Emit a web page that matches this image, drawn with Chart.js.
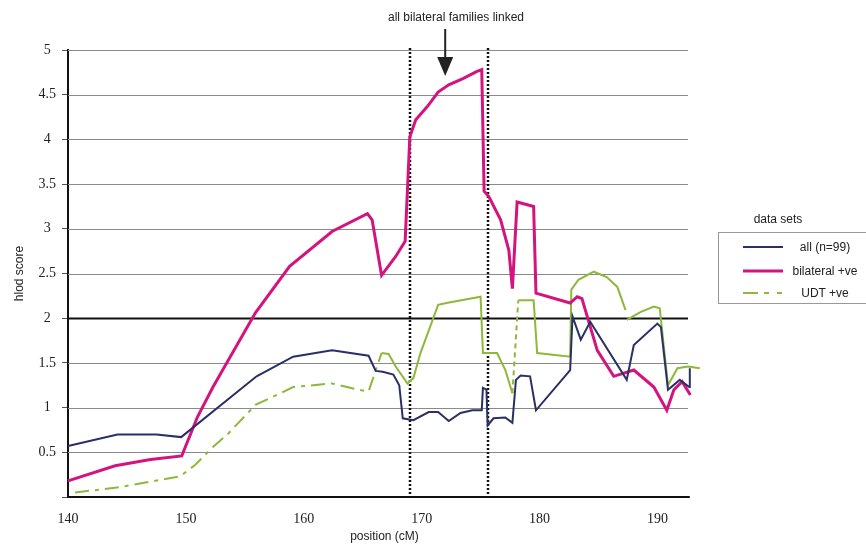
<!DOCTYPE html>
<html>
<head>
<meta charset="utf-8">
<script src="https://cdn.jsdelivr.net/npm/chart.js@4/dist/chart.umd.min.js"></script>
<style>
  html, body { margin: 0; padding: 0; background: #fff; }
  #wrap { position: relative; width: 866px; height: 544px; overflow: hidden; }
  #c { position: absolute; left: 0; top: 0; }
  #legendTitle { position: absolute; left: 718px; width: 120px; top: 212px; text-align: center;
    font: 12px "Liberation Sans", Arial, sans-serif; color: #222; }
  #legendBox { position: absolute; left: 718px; top: 232px; width: 160px; height: 72px;
    border: 1px solid #999; box-sizing: border-box; }
  .item { position: absolute; left: 0; width: 160px; height: 20px; }
  .item svg { position: absolute; left: 22px; top: 4px; }
  .item span { position: absolute; left: 70px; width: 72px; text-align: center; top: 3px;
    font: 12px "Liberation Sans", Arial, sans-serif; color: #222; white-space: nowrap; }
</style>
</head>
<body>
<div id="wrap">
  <canvas id="c" width="866" height="544"></canvas>
  <div id="legendTitle">data sets</div>
  <div id="legendBox">
    <div class="item" style="top:4px"><svg width="44" height="12"><line x1="2" y1="6" x2="42" y2="6" stroke="#2a3066" stroke-width="2"/></svg><span>all (n=99)</span></div>
    <div class="item" style="top:28px"><svg width="44" height="12"><line x1="2" y1="6" x2="42" y2="6" stroke="#d3147f" stroke-width="3"/></svg><span>bilateral +ve</span></div>
    <div class="item" style="top:50px"><svg width="44" height="12"><line x1="2" y1="6" x2="42" y2="6" stroke="#8db83a" stroke-width="2" stroke-dasharray="15,6,5,8,5,10"/></svg><span>UDT +ve</span></div>
  </div>
</div>
<script>
// ---- data ----
const xTicks = [140, 150, 160, 170, 180, 190];
const yTicks = [0.5, 1, 1.5, 2, 2.5, 3, 3.5, 4, 4.5, 5];

const allX = [140, 144.2, 147.5, 149.6, 156.0, 159.1, 162.4, 165.5, 166.1, 166.7, 167.6, 168.1, 168.4, 169.3, 170.6, 171.4, 172.3, 173.3, 174.3, 175.1, 175.2, 175.5, 175.6, 176.1, 177.1, 177.7, 178.0, 178.4, 179.2, 179.7, 182.6, 182.8, 183.5, 184.3, 187.4, 188.0, 190.0, 190.3, 190.9, 191.9, 192.7, 192.75];
const allY = [0.57, 0.70, 0.70, 0.67, 1.35, 1.57, 1.64, 1.58, 1.41, 1.40, 1.37, 1.25, 0.88, 0.86, 0.95, 0.95, 0.85, 0.94, 0.97, 0.97, 1.22, 1.20, 0.80, 0.88, 0.89, 0.83, 1.31, 1.36, 1.35, 0.97, 1.42, 2.02, 1.76, 1.96, 1.31, 1.70, 1.94, 1.90, 1.20, 1.31, 1.23, 1.44];

const bilatX = [140, 144, 147, 149.65, 151.0, 152.3, 155.9, 158.8, 162.4, 165.4, 165.8, 166.6, 167.8, 168.6, 169.0, 169.5, 170.5, 171.4, 172.3, 173.5, 174.7, 175.1, 175.3, 175.7, 176.7, 177.4, 177.7, 178.1, 179.5, 179.7, 182.6, 183.2, 183.6, 184.9, 186.3, 188.0, 189.7, 190.8, 191.4, 192.1, 192.8];
const bilatY = [0.18, 0.35, 0.42, 0.46, 0.90, 1.23, 2.06, 2.58, 2.97, 3.17, 3.10, 2.48, 2.69, 2.86, 4.03, 4.22, 4.37, 4.53, 4.61, 4.68, 4.76, 4.78, 3.42, 3.36, 3.10, 2.76, 2.33, 3.30, 3.25, 2.28, 2.17, 2.24, 2.22, 1.64, 1.35, 1.42, 1.23, 0.97, 1.20, 1.29, 1.14];

const udtX = [140.6, 144.4, 146.1, 149.5, 150.8, 152.3, 153.6, 155.9, 158.0, 159.1, 162.4, 164.6, 165.5, 166.6, 167.2, 167.8, 168.8, 169.3, 169.9, 171.4, 172.1, 175.0, 175.2, 175.8, 176.4, 177.1, 177.7, 178.2, 179.5, 179.8, 182.6, 182.7, 183.3, 184.6, 185.7, 186.6, 187.3, 187.35, 187.4, 188.6, 189.7, 190.2, 190.9, 191.7, 192.6, 193.6];
const udtY = [0.05, 0.11, 0.15, 0.23, 0.36, 0.56, 0.71, 1.03, 1.16, 1.23, 1.27, 1.20, 1.18, 1.61, 1.60, 1.46, 1.27, 1.33, 1.61, 2.15, 2.17, 2.24, 1.61, 1.61, 1.61, 1.42, 1.16, 2.20, 2.20, 1.61, 1.57, 2.32, 2.43, 2.52, 2.46, 2.35, 2.09, null, 1.98, 2.07, 2.13, 2.11, 1.25, 1.44, 1.46, 1.44];

const markerX = [169.0, 175.6];
const arrowX = 172.0;
const gridEndX = 192.6;   // horizontal grid lines stop here
const axisEndX = 192.75;  // bottom axis line stops here

const pts = (xs, ys) => xs.map((x, i) => ({ x: x, y: ys[i] }));

const annot = {
  id: 'annot',
  beforeDatasetsDraw(chart) {
    const ctx = chart.ctx, xs = chart.scales.x, ys = chart.scales.y, a = chart.chartArea;
    ctx.save();
    // horizontal grid
    const gEnd = xs.getPixelForValue(gridEndX);
    yTicks.forEach(v => {
      const py = Math.round(ys.getPixelForValue(v)) + 0.5;
      ctx.strokeStyle = v === 2 ? '#111' : '#8a8a8a';
      ctx.lineWidth = v === 2 ? 2 : 1;
      ctx.beginPath(); ctx.moveTo(a.left, py); ctx.lineTo(gEnd, py); ctx.stroke();
    });
    // bottom axis line
    const py0 = ys.getPixelForValue(0);
    ctx.strokeStyle = '#111'; ctx.lineWidth = 2;
    ctx.beginPath(); ctx.moveTo(a.left - 1, py0); ctx.lineTo(xs.getPixelForValue(axisEndX), py0); ctx.stroke();
    // dotted marker lines
    ctx.lineWidth = 2.5;
    ctx.setLineDash([2, 2]);
    markerX.forEach(v => {
      const px = Math.round(xs.getPixelForValue(v));
      ctx.beginPath(); ctx.moveTo(px, a.top - 2); ctx.lineTo(px, a.bottom); ctx.stroke();
    });
    ctx.restore();
  },
  afterDatasetsDraw(chart) {
    const ctx = chart.ctx, xs = chart.scales.x;
    const px = xs.getPixelForValue(arrowX);
    ctx.save();
    ctx.strokeStyle = '#222'; ctx.fillStyle = '#222'; ctx.lineWidth = 2;
    ctx.beginPath(); ctx.moveTo(px, 29); ctx.lineTo(px, 60); ctx.stroke();
    ctx.beginPath(); ctx.moveTo(px - 8, 57); ctx.lineTo(px + 8, 57); ctx.lineTo(px, 76); ctx.closePath(); ctx.fill();
    ctx.font = '12px "Liberation Sans", Arial, sans-serif';
    ctx.textAlign = 'center'; ctx.textBaseline = 'middle';
    ctx.fillText('all bilateral families linked', 456, 18);
    ctx.restore();
  }
};

const PADL = 4, PADB = 0;
new Chart(document.getElementById('c'), {
  type: 'line',
  data: {
    datasets: [
      { label: 'all (n=99)', data: pts(allX, allY), borderColor: '#2a3066', borderWidth: 2, pointRadius: 0, tension: 0, clip: false },
      { label: 'bilateral +ve', data: pts(bilatX, bilatY), borderColor: '#d3147f', borderWidth: 3, pointRadius: 0, tension: 0, clip: false },
      { label: 'UDT +ve', data: pts(udtX, udtY), borderColor: '#8db83a', borderWidth: 2, pointRadius: 0, tension: 0, clip: false, spanGaps: false, borderDash: [],
        segment: { borderDash: c => c.p0.parsed.x < 165.6 ? [14, 6, 4, 6] : ((c.p0.parsed.x >= 177.6 && c.p0.parsed.x < 178) ? [5, 4] : undefined) } }
    ]
  },
  options: {
    responsive: false, animation: false,
    layout: { padding: { left: PADL, right: 165, top: 50, bottom: PADB } },
    plugins: { legend: { display: false }, tooltip: { enabled: false } },
    scales: {
      x: {
        type: 'linear', min: 140, max: 193.7,
        afterBuildTicks: s => { s.ticks = xTicks.map(v => ({ value: v })); },
        afterFit: s => { s.height = 544 - 497 - PADB; },
        grid: { display: false },
        border: { display: false },
        ticks: { padding: 6, color: '#222', font: { family: '"Liberation Serif", serif', size: 14 } },
        title: { display: true, text: 'position (cM)', color: '#222', padding: { top: 2, bottom: 0 }, font: { family: '"Liberation Sans", Arial, sans-serif', size: 12 } }
      },
      y: {
        min: 0, max: 5,
        afterBuildTicks: s => { s.ticks = [0].concat(yTicks).map(v => ({ value: v })); },
        afterFit: s => { s.width = 68 - PADL; },
        grid: { drawOnChartArea: false, tickLength: 6, tickColor: '#555' },
        border: { display: true, color: '#111', width: 2 },
        ticks: { padding: 6, crossAlign: 'center', color: '#222', font: { family: '"Liberation Serif", serif', size: 14 }, callback: v => v === 0 ? '' : String(v) },
        title: { display: true, text: 'hlod score', color: '#222', padding: { top: 8, bottom: 0 }, font: { family: '"Liberation Sans", Arial, sans-serif', size: 12 } }
      }
    }
  },
  plugins: [annot]
});
</script>
</body>
</html>
